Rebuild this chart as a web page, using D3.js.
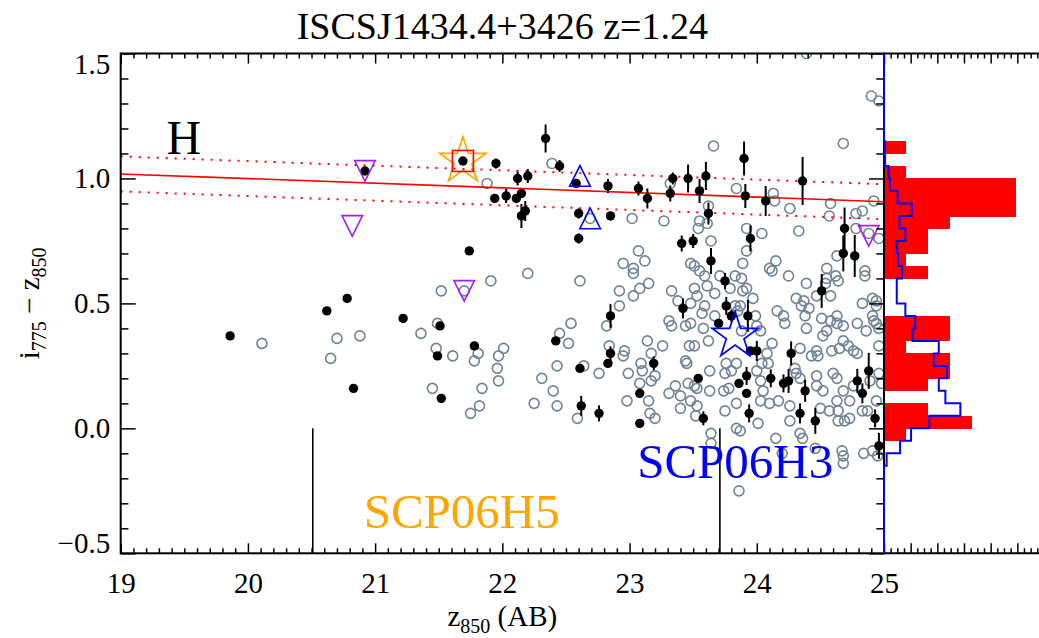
<!DOCTYPE html>
<html>
<head>
<meta charset="utf-8">
<script src="https://cdn.jsdelivr.net/npm/d3@7"></script>
<style>
  body { margin: 0; background: #fff; }
  svg { display: block; }
  text { font-family: "Liberation Serif", "Times New Roman", serif; }
</style>
</head>
<body>
<svg id="chart" width="1039" height="638"></svg>
<script>
// ---------- data ----------
// spectroscopic / red-sequence members: [z850, i775 - z850, colour error]
const members = [
  [19.86,0.37,0],[20.62,0.47,0],[20.78,0.52,0],[20.83,0.16,0],[20.92,1.03,0],
  [21.22,0.44,0],[21.49,0.29,0],[21.51,0.41,0],[21.52,0.12,0],[21.69,1.07,0],
  [21.74,0.71,0],[21.78,0.33,0],[21.95,1.06,0.02],[21.94,0.92,0],[22.03,0.93,0.028],
  [22.11,0.92,0],[22.15,0.94,0],[22.12,1.00,0.028],[22.20,1.01,0.028],[22.15,0.85,0.048],
  [22.18,0.87,0.04],[22.34,1.16,0.056],[22.45,1.05,0.024],[22.42,0.35,0],[22.58,0.98,0.012],
  [22.60,0.86,0.02],[22.60,0.76,0.02],[22.61,0.24,0],[22.62,0.09,0.04],[22.76,0.06,0.032],
  [22.83,0.97,0.028],[22.85,0.85,0.012],[22.85,0.45,0.048],[22.85,0.30,0.028],[22.83,0.26,0],
  [23.07,0.96,0.028],[23.14,0.92,0.04],[23.08,0.14,0],[23.08,0.02,0],[23.19,0.26,0.028],
  [23.34,1.00,0.024],[23.32,0.94,0.032],[23.41,0.74,0.032],[23.42,0.48,0.04],[23.46,1.00,0.056],
  [23.50,0.75,0.028],[23.54,0.20,0],[23.55,0.95,0.048],[23.60,1.01,0.056],[23.62,0.86,0.044],
  [23.58,0.04,0.028],[23.64,0.67,0.052],[23.70,0.42,0],[23.75,0.59,0.032],[23.76,0.49,0.036],
  [23.80,0.45,0.024],[23.86,0.18,0],[23.90,1.08,0.068],[23.91,0.93,0.048],[23.92,0.21,0.036],
  [23.92,0.14,0],[23.93,0.45,0.064],[23.94,0.06,0.036],[23.95,0.76,0.052],[23.95,0.31,0],
  [24.00,0.31,0.04],[24.07,0.91,0.06],[24.11,0.20,0.036],[24.21,0.18,0.036],[24.25,0.19,0.048],
  [24.27,0.30,0.048],[24.34,0.06,0.04],[24.36,0.99,0.096],[24.38,0.15,0.044],[24.46,0.03,0.052],
  [24.51,0.55,0.068],[24.69,0.80,0.084],[24.68,0.70,0.072],[24.77,0.69,0.084],[24.79,0.19,0.048],
  [24.83,0.14,0.04],[24.88,0.23,0.072],[24.93,0.04,0.036],[24.96,-0.07,0.052]
];

// other galaxies in the field: [z850, i775 - z850]
const field = [
  [20.11,0.34],[20.70,0.36],[20.65,0.28],[20.88,0.37],
  [21.52,0.55],[21.70,0.55],[21.91,0.59],[22.20,0.62],[22.61,0.59],
  [21.49,0.42],[21.36,0.38],[21.48,0.32],[21.61,0.29],[21.81,0.30],[21.78,0.27],[22.01,0.32],
  [21.97,0.29],[21.96,0.24],[21.97,0.19],[21.84,0.16],[21.82,0.09],[21.75,0.06],[21.45,0.16],
  [22.31,0.20],[22.40,0.15],[22.25,0.10],[22.43,0.09],[22.43,0.25],[22.45,0.38],[22.54,0.42],
  [22.52,0.34],[22.59,0.04],[22.64,0.25],[22.76,0.22],[22.82,0.41],[22.84,0.33],
  [22.92,0.55],[22.92,0.49],[22.95,0.66],[23.03,0.64],[23.03,0.62],[23.07,0.71],[23.12,0.67],
  [23.08,0.56],[23.03,0.53],[23.15,0.58],
  [23.02,0.84],[23.27,0.83],[23.33,0.55],[23.38,0.51],[23.51,0.56],[23.53,0.53],[23.48,0.66],
  [23.51,0.65],[23.55,0.63],
  [23.31,0.43],[23.33,0.41],[23.44,0.41],[23.48,0.42],[23.57,0.46],
  [23.14,0.35],[23.26,0.33],[23.17,0.30],[22.96,0.31],[22.95,0.29],[23.09,0.26],[23.10,0.23],
  [22.99,0.22],[23.08,0.18],[23.17,0.19],[23.20,0.21],[23.47,0.33],[23.51,0.33],[23.44,0.27],
  [23.45,0.26],[23.36,0.17],[23.31,0.14],[23.40,0.13],[23.46,0.18],[23.51,0.17],[23.53,0.16],
  [23.15,0.11],[22.98,0.11],[23.16,0.06],[23.20,0.04],[23.40,0.08],[23.52,0.05],[23.48,0.11],
  [23.53,0.09],
  [23.64,-0.02],[23.64,-0.06],[23.75,0.07],[23.84,0.00],[23.87,-0.01],[24.01,0.02],[24.15,-0.04],
  [24.34,-0.02],[24.36,-0.04],[24.20,-0.10],[24.46,-0.08],[24.50,0.08],[24.57,0.07],[24.64,0.07],
  [24.64,0.03],[24.69,0.03],[24.73,0.04],[24.67,-0.09],[24.68,-0.11],[24.68,-0.14],[24.84,-0.10],
  [24.91,-0.09],[24.95,-0.11],[24.83,0.07],[24.87,0.07],[23.86,-0.25],
  [23.62,0.89],[23.55,0.83],[23.61,0.82],[23.54,0.80],[24.26,0.88],[24.58,0.90],[24.57,0.85],
  [24.78,0.86],[24.83,0.87],[24.92,0.91],[23.84,0.96],[24.13,0.94],[24.14,0.91],[23.64,0.75],
  [24.04,0.78],[24.33,0.79],[24.78,0.80],[24.88,0.78],[24.96,0.76],[23.92,0.80],[23.92,0.71],
  [23.32,0.98],[21.88,0.98],[22.39,1.06],[23.66,1.13],[24.68,1.14],[24.39,1.50],[24.90,1.33],
  [24.96,1.31],
  [23.89,0.66],[24.15,0.67],[24.10,0.64],[24.12,0.63],[24.25,0.61],[24.55,0.64],[24.63,0.69],
  [24.62,0.61],[24.64,0.59],[24.55,0.60],[24.85,0.63],[24.85,0.61],[23.59,0.61],[23.71,0.61],
  [23.83,0.61],[23.88,0.60],[23.61,0.57],[23.67,0.54],[23.89,0.55],[23.92,0.56],[23.97,0.52],
  [23.79,0.56],[24.39,0.58],[24.31,0.52],[24.37,0.51],[24.35,0.49],[24.41,0.48],[24.47,0.53],
  [24.58,0.53],[24.54,0.58],[24.83,0.50],[24.91,0.52],[24.94,0.51],[24.94,0.49],[23.59,0.49],
  [23.48,0.50],[23.83,0.49],[23.87,0.49],[23.85,0.47],[23.99,0.45],[24.16,0.47],[24.21,0.45],
  [24.22,0.42],[24.38,0.45],[24.39,0.40],[24.51,0.44],[24.58,0.43],[24.63,0.45],[24.63,0.42],
  [24.68,0.41],[24.79,0.42],[24.91,0.45],[24.92,0.43],[24.94,0.42],[23.67,0.45],[24.00,0.41],
  [24.03,0.39],[23.88,0.39],[23.62,0.35],[24.52,0.37],[24.55,0.39],[24.72,0.33],[24.68,0.35],
  [24.86,0.39],[24.96,0.40],[24.96,0.33],[24.12,0.34],[24.34,0.32],[24.47,0.31],[24.48,0.29],
  [24.43,0.29],[24.59,0.31],[24.65,0.32],[24.76,0.31],[24.79,0.30],[24.08,0.30],[24.09,0.26],
  [24.04,0.26],[23.84,0.26],[23.76,0.26],[23.75,0.22],[23.80,0.23],[23.63,0.23],[23.74,0.15],
  [23.78,0.16],[24.00,0.23],[24.03,0.19],[24.05,0.15],[24.03,0.11],[24.10,0.10],[24.17,0.11],
  [24.31,0.22],[24.34,0.20],[24.30,0.24],[24.47,0.21],[24.47,0.17],[24.52,0.15],[24.60,0.22],
  [24.63,0.20],[24.68,0.15],[24.76,0.17],[24.89,0.19],[24.96,0.22],[24.98,0.18],[24.94,0.11],
  [24.73,0.11],[24.63,0.11],[24.26,0.09],[23.84,0.10],[23.63,0.15],[24.26,0.03],[23.58,0.40],
  [22.69,0.84]
];

// flagged objects
const downTriangles = [[20.92,1.03],[20.82,0.81],[21.70,0.55],[24.88,0.77]];
const upTriangles   = [[22.61,1.01],[22.69,0.84]];
const hostH5 = [21.69,1.07];
const hostH3 = [23.83,0.37];

// supernova names, peak magnitudes and label anchors
const snNames  = ["SCP06H5","SCP06H3"];
const snMag    = [20.51,23.71];
const snColors = ["#ffa500","#0000ff"];
const snLabelAt = [[20.91,-0.40],[23.06,-0.20]];

// red-sequence fit: colour at z850 = 19, slope, and scatter
const seqZero = 1.018;
const seqSlope = -0.0185;
const seqScatter = 0.07;

// colour histograms (bin lower edges, bin width 0.05)
const binLo = [-0.15,-0.10,-0.05,0.00,0.05,0.10,0.15,0.20,0.25,0.30,0.35,0.40,0.45,
               0.50,0.55,0.60,0.65,0.70,0.75,0.80,0.85,0.90,0.95,1.00,1.05,1.10];
const binW = 0.05;
const memberHist = [0,0,1,4,2,0,2,3,3,1,3,3,0,0,0,2,1,2,2,3,6,6,6,1,0,1];
const fieldHist  = [0.12,0.73,1.23,2.06,3.47,2.79,2.49,2.86,2.26,2.49,1.30,1.42,0.97,
                    0.58,0.58,0.82,0.64,0.58,0.97,0.70,1.26,0.62,0.27,0.21,0.05,0.05];

// axes
const xTicks = [19,20,21,22,23,24,25];
const yTicks = [-0.5,0.0,0.5,1.0,1.5];

// ---------- layout ----------
const P = {left: 120.7, right: 884, top: 53.5, bottom: 553.3};
const svg = d3.select("#chart");
const x = d3.scaleLinear().domain([19,25]).range([P.left, P.right]);
const y = d3.scaleLinear().domain([-0.5,1.5]).range([P.bottom, P.top]);
const hx = d3.scaleLinear().domain([0,7]).range([P.right, P.right + 154]);
const hAxis = d3.scaleLinear().domain([0,6]).range([P.right, P.right + 160]);

const xMinor = d3.range(190,251).map(d => d/10).filter(d => !xTicks.includes(d));
const yMinor = d3.range(-5,16).map(d => d/10).filter(d => !yTicks.includes(d));
const hMajor = [1,2,3,4,5,6];
const hMinor = d3.range(0,25).map(d => d/4).filter(d => d % 1 !== 0);

svg.append("defs").append("clipPath").attr("id","plotClip")
  .append("rect").attr("x",P.left).attr("y",P.top)
  .attr("width",P.right-P.left).attr("height",P.bottom-P.top);

// ---------- histogram panel ----------
const hist = svg.append("g").attr("shape-rendering","crispEdges");
hist.selectAll("rect").data(binLo.map((lo,i)=>({lo, n: memberHist[i]})).filter(d=>d.n>0))
  .enter().append("rect")
  .attr("x", hx(0)).attr("width", d => hx(d.n)-hx(0))
  .attr("y", d => y(d.lo+binW)).attr("height", d => y(d.lo)-y(d.lo+binW) + 0.6)
  .attr("fill","#ff0000");

// ---------- main plot marks ----------
const plotG = svg.append("g").attr("clip-path","url(#plotClip)");

plotG.selectAll("circle.field").data(field).enter().append("circle")
  .attr("class","field")
  .attr("cx", d => x(d[0])).attr("cy", d => y(d[1])).attr("r", 5)
  .attr("fill","none").attr("stroke","#718396").attr("stroke-width",1.6);

// red sequence and its scatter
const seq = z => seqZero + seqSlope*(z-19);
[[0,"none",1.6],[seqScatter,"2,7",2],[-seqScatter,"2,7",2]].forEach(([off,dash,w])=>{
  plotG.append("path")
    .attr("d", d3.line().x(d=>x(d)).y(d=>y(seq(d)+off))([19,25]))
    .attr("fill","none").attr("stroke","#ff0000").attr("stroke-width",w)
    .attr("stroke-dasharray", dash);
});

// supernova magnitude markers
plotG.selectAll("line.sn").data(snMag).enter().append("line")
  .attr("x1", d => x(d)).attr("x2", d => x(d))
  .attr("y1", y(0)).attr("y2", y(-0.5))
  .attr("stroke","#000").attr("stroke-width",1.6);

// members with error bars
plotG.selectAll("line.err").data(members.filter(d=>d[2]>0)).enter().append("line")
  .attr("x1", d => x(d[0])).attr("x2", d => x(d[0]))
  .attr("y1", d => y(d[1]-d[2])).attr("y2", d => y(d[1]+d[2]))
  .attr("stroke","#000").attr("stroke-width",2);
plotG.selectAll("circle.mem").data(members).enter().append("circle")
  .attr("cx", d => x(d[0])).attr("cy", d => y(d[1])).attr("r", 4.7)
  .attr("fill","#000");

// triangles
const tri = (s, up) => up
  ? `M0,${-s}L${s},${s}L${-s},${s}Z`
  : `M${-s},${-s}L${s},${-s}L0,${s}Z`;
plotG.selectAll("path.dn").data(downTriangles).enter().append("path")
  .attr("d", tri(10.3,false))
  .attr("transform", d => `translate(${x(d[0])},${y(d[1])})`)
  .attr("fill","none").attr("stroke","#a020f0").attr("stroke-width",1.6);
plotG.selectAll("path.up").data(upTriangles).enter().append("path")
  .attr("d", tri(10.3,true))
  .attr("transform", d => `translate(${x(d[0])},${y(d[1])})`)
  .attr("fill","none").attr("stroke","#0000ff").attr("stroke-width",1.6);

// host-galaxy stars
function starPath(R, ratio) {
  const pts = [];
  for (let i = 0; i < 10; i++) {
    const a = -Math.PI/2 + i*Math.PI/5;
    const r = i % 2 ? R*ratio : R;
    pts.push([r*Math.cos(a), r*Math.sin(a)]);
  }
  return "M" + pts.map(p => p.join(",")).join("L") + "Z";
}
[[hostH5, snColors[0]], [hostH3, snColors[1]]].forEach(([d,c]) => {
  plotG.append("path").attr("d", starPath(24.3, 0.382))
    .attr("transform", `translate(${x(d[0])},${y(d[1])})`)
    .attr("fill","none").attr("stroke",c).attr("stroke-width",1.7);
});
plotG.append("rect")
  .attr("x", x(hostH5[0])-10.5).attr("y", y(hostH5[1])-10.5)
  .attr("width",21).attr("height",21)
  .attr("fill","none").attr("stroke","#ff0000").attr("stroke-width",1.6);

// ---------- axes ----------
function styleAxis(g, w) {
  g.attr("font-family", null).attr("font-size", null);
  g.select(".domain").remove();
  g.selectAll(".tick line").attr("stroke","#000").attr("stroke-width", w || 1.5);
  g.selectAll(".tick text").attr("fill","#000").attr("font-size",29)
    .attr("font-family","'Liberation Serif', 'Times New Roman', serif");
  return g;
}
// bottom
styleAxis(svg.append("g").attr("transform",`translate(0,${P.bottom})`)
  .call(d3.axisBottom(x).tickValues(xTicks).tickSize(-10).tickPadding(19).tickFormat(d3.format("d"))));
styleAxis(svg.append("g").attr("transform",`translate(0,${P.bottom})`)
  .call(d3.axisBottom(x).tickValues(xMinor).tickSize(-5).tickFormat("")));
// top
styleAxis(svg.append("g").attr("transform",`translate(0,${P.top})`)
  .call(d3.axisTop(x).tickValues(xTicks).tickSize(-10).tickFormat("")));
styleAxis(svg.append("g").attr("transform",`translate(0,${P.top})`)
  .call(d3.axisTop(x).tickValues(xMinor).tickSize(-5).tickFormat("")));
// left
const yAx = styleAxis(svg.append("g").attr("transform",`translate(${P.left},0)`)
  .call(d3.axisLeft(y).tickValues(yTicks).tickSize(-15).tickPadding(10.5).tickFormat(d3.format(".1f"))));
yAx.selectAll(".tick text").attr("y", d => d === 1.5 ? 11 : (d === -0.5 ? -10 : 0));
styleAxis(svg.append("g").attr("transform",`translate(${P.left},0)`)
  .call(d3.axisLeft(y).tickValues(yMinor).tickSize(-7.7).tickFormat("")));
// right
styleAxis(svg.append("g").attr("transform",`translate(${P.right},0)`)
  .call(d3.axisRight(y).tickValues(yTicks).tickSize(-15).tickFormat("")));
styleAxis(svg.append("g").attr("transform",`translate(${P.right},0)`)
  .call(d3.axisRight(y).tickValues(yMinor).tickSize(-7.7).tickFormat("")));
// histogram panel top / bottom
[[P.top, d3.axisTop], [P.bottom, d3.axisBottom]].forEach(([yy, ax]) => {
  styleAxis(svg.append("g").attr("transform",`translate(0,${yy})`)
    .call(ax(hAxis).tickValues(hMajor).tickSize(-10).tickFormat("")));
  styleAxis(svg.append("g").attr("transform",`translate(0,${yy})`)
    .call(ax(hAxis).tickValues(hMinor).tickSize(-5).tickFormat("")));
});

// frames
svg.append("rect").attr("x",P.left).attr("y",P.top)
  .attr("width",P.right-P.left).attr("height",P.bottom-P.top)
  .attr("fill","none").attr("stroke","#000").attr("stroke-width",2);
[P.top, P.bottom].forEach(yy => svg.append("line")
  .attr("x1",P.right).attr("x2",1039).attr("y1",yy).attr("y2",yy)
  .attr("stroke","#000").attr("stroke-width",2));

// field colour distribution (step outline)
const stepPts = [[0,1.5]];
const bins = binLo.map((lo,i)=>({lo, v: fieldHist[i]})).sort((a,b)=>b.lo-a.lo);
stepPts.push([0, bins[0].lo + binW]);
bins.forEach(b => { stepPts.push([b.v, b.lo + binW]); stepPts.push([b.v, b.lo]); });
stepPts.push([0, bins[bins.length-1].lo]);
stepPts.push([0, -0.5]);
svg.append("path")
  .attr("d", d3.line().x(d => hx(d[0])).y(d => y(d[1]))(stepPts))
  .attr("fill","none").attr("stroke","#0000ff").attr("stroke-width",2);

// ---------- text ----------
svg.append("text").attr("x", (P.left+P.right)/2).attr("y", 39)
  .attr("text-anchor","middle").attr("font-size",38).attr("fill","#000")
  .text("ISCSJ1434.4+3426 z=1.24");

svg.append("text").attr("x", x(19.36)).attr("y", y(1.098))
  .attr("font-size",48).attr("fill","#000").text("H");

snNames.forEach((n,i) => {
  svg.append("text").attr("x", x(snLabelAt[i][0])).attr("y", y(snLabelAt[i][1]))
    .attr("font-size",49).attr("fill",snColors[i]).text(n);
});

const xt = svg.append("text").attr("x",(P.left+P.right)/2).attr("y",626)
  .attr("text-anchor","middle").attr("font-size",29).attr("fill","#000");
xt.append("tspan").text("z");
xt.append("tspan").attr("font-size",20).attr("dy",7).text("850");
xt.append("tspan").attr("dy",-7).text(" (AB)");

const yt = svg.append("text")
  .attr("transform",`translate(39,${(P.top+P.bottom)/2}) rotate(-90)`)
  .attr("text-anchor","middle").attr("font-size",29).attr("fill","#000");
yt.append("tspan").text("i");
yt.append("tspan").attr("font-size",20).attr("dy",7).text("775");
yt.append("tspan").attr("dy",-7).text(" \u2212 z");
yt.append("tspan").attr("font-size",20).attr("dy",7).text("850");
</script>
</body>
</html>
